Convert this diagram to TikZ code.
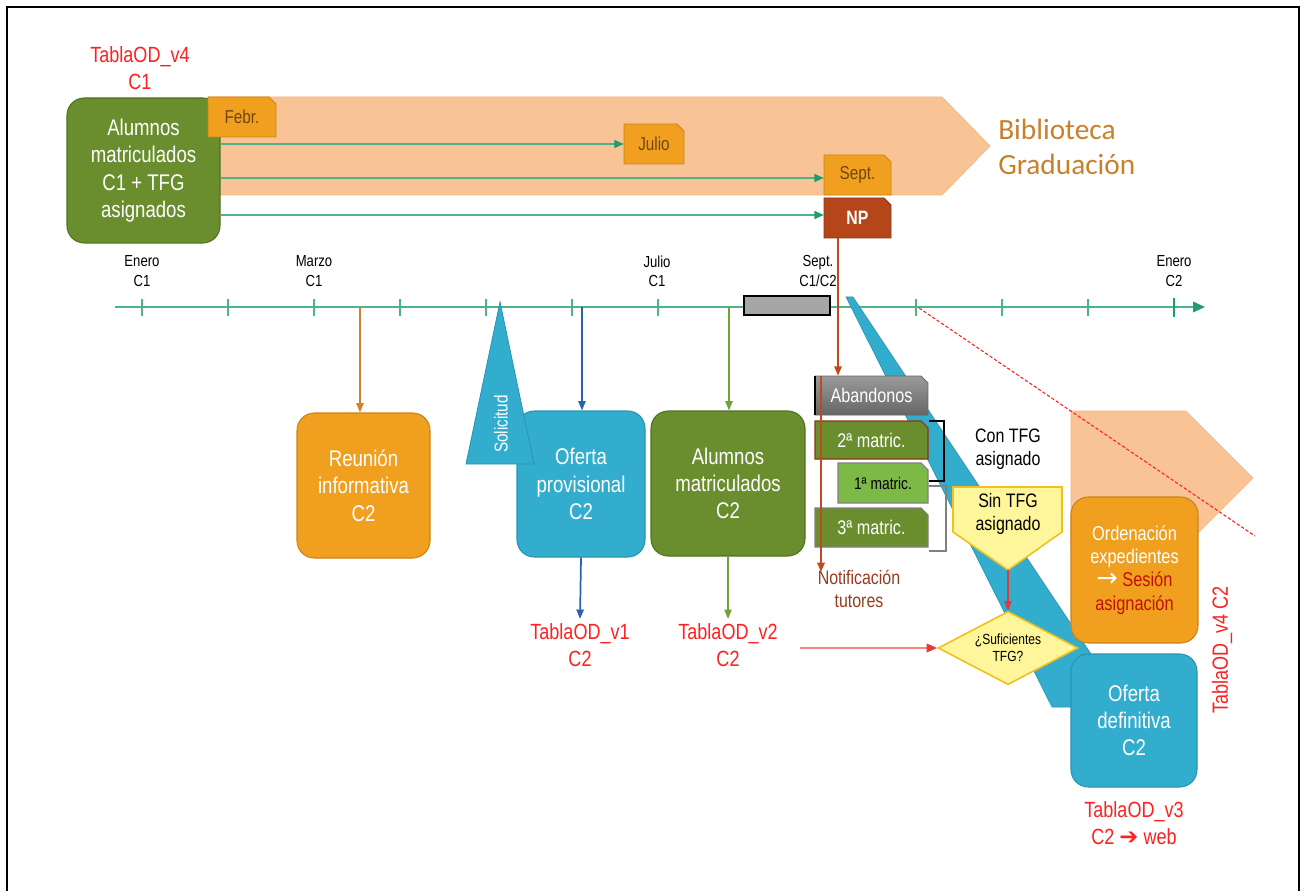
\documentclass[tikz,border=0pt]{standalone}
\usepackage{fontspec}
\setmainfont{Liberation Sans}[FakeStretch=0.82]
\newfontfamily\calib{Carlito}
\newfontfamily\dejavu{DejaVu Sans}
\usetikzlibrary{arrows.meta,shapes.geometric}
\definecolor{cOlive}{HTML}{6A8E2E}
\definecolor{cOliveD}{HTML}{4E7324}
\definecolor{cOrange}{HTML}{F0A01E}
\definecolor{cOrangeD}{HTML}{C98519}
\definecolor{cCyan}{HTML}{33ADCE}
\definecolor{cCyanD}{HTML}{2A93B3}
\definecolor{cPeach}{HTML}{F8C496}
\definecolor{cPeachD}{HTML}{F4B47F}
\definecolor{cNP}{HTML}{B5461A}
\definecolor{cNPD}{HTML}{8C3412}
\definecolor{cAxis}{HTML}{4DB38A}
\definecolor{cArrowG}{HTML}{1E9E6E}
\definecolor{cRed}{HTML}{FF2020}
\definecolor{cBib}{HTML}{C8802A}
\definecolor{cBrownT}{HTML}{963C1E}
\definecolor{cBrownA}{HTML}{D2822A}
\definecolor{cNPLine}{HTML}{BE4B1E}
\definecolor{cBlueA}{HTML}{2864AA}
\definecolor{cGreenA}{HTML}{72A236}
\definecolor{cLGreen}{HTML}{7DB946}
\definecolor{cYel}{HTML}{FFF59A}
\definecolor{cYelD}{HTML}{F2C01E}
\definecolor{cGrayR}{HTML}{A6A6A6}
\definecolor{cGrayT}{HTML}{9A9A9A}
\definecolor{cGrayB}{HTML}{666666}
\definecolor{cDarkRed}{HTML}{C0100A}
\definecolor{cTagT}{HTML}{6E4614}
\definecolor{cLRed}{HTML}{FF8080}
\definecolor{cRedA}{HTML}{E53935}
\newcommand\snipnode[8]{%
  \path[#1] (#4,#5) -- ({#6-7},#5) -- (#6,{#5+7}) -- (#6,#7) -- (#4,#7) -- cycle;
  \node[#2, inner sep=0pt, minimum width={(#6-#4)*0.75pt}, minimum height={(#7-#5)*0.75pt}] (#3) at ({(#4+#6)/2},{(#5+#7)/2}) {#8};}
\begin{document}
\begin{tikzpicture}[x=0.75pt,y=-0.75pt,
  rbox/.style={rounded corners=13pt, inner sep=2pt, align=center, text=white,
    font=\fontsize{17}{20.5}\selectfont, line width=0.8pt},
  olivebox/.style={rbox, fill=cOlive, draw=cOliveD},
  orangebox/.style={rbox, fill=cOrange, draw=cOrangeD},
  cyanbox/.style={rbox, fill=cCyan, draw=cCyanD},
  redlbl/.style={align=center, text=cRed, font=\fontsize{16.5}{20}\selectfont},
  axlbl/.style={align=center, font=\fontsize{12}{14.5}\selectfont},
  tagtxt/.style={text=cTagT, font=\fontsize{14}{16}\selectfont},
  tagshape/.style={fill=cOrange, draw=cOrangeD, line width=0.6pt},
  garrow/.style={draw=cAxis, line width=1.1pt, -{Triangle[length=7pt,width=6pt,color=cArrowG]}},
  tick/.style={draw=cAxis, line width=0.8pt},
  tipT/.style={-{Triangle[length=7pt,width=5.5pt]}},
  blktxt/.style={align=center, font=\fontsize{14.6}{17.5}\selectfont}
]
\useasboundingbox (0,0) rectangle (1303,891);
% frame
\draw[line width=1.5pt] (7,891) -- (7,7) -- (1299,7) -- (1299,891);

% big peach arrow
\path[fill=cPeach, draw=cPeachD, line width=0.5pt] (208,97) -- (942,97) -- (990,146) -- (942,195) -- (208,195) -- cycle;
\node[anchor=west, inner sep=0pt, align=left, text=cBib, font=\calib\fontsize{22}{26}\selectfont] (bib) at (998,147) {Biblioteca\\Graduación};

% top-left label and green box
\node[redlbl] (t4a) at (140,68) {TablaOD\_v4\\C1};
\node[olivebox, minimum width=114.75pt, minimum height=108.75pt] (c1) at (143.5,170.5) {Alumnos\\matriculados\\C1 + TFG\\asignados};

% tags
\snipnode{tagshape}{tagtxt}{febr}{208}{97}{276}{137}{Febr.}
\snipnode{tagshape}{tagtxt}{julio}{624}{124}{684}{164}{Julio}
\snipnode{tagshape}{tagtxt}{sept}{824}{155}{891}{195}{Sept.}
\snipnode{fill=cNP, draw=cNPD, line width=0.6pt}{text=white, font=\bfseries\fontsize{14.5}{16}\selectfont}{np}{824}{198}{891}{238}{NP}

\draw[garrow] (c1.east |- julio.west) -- (julio.west);
\draw[garrow] (c1.east |- 0,178) -- (sept.west |- 0,178);
\draw[garrow] (c1.east |- 0,215) -- (np.west |- 0,215);

% axis
\coordinate (ax0) at (115,307);
\coordinate (ax1) at (1205,307);
\draw[draw=cAxis, line width=1pt, -{Triangle[length=9pt,width=8pt,color=cArrowG]}] (ax0) -- (ax1);
\foreach \k in {0,...,11} {\draw[tick] ({142+86*\k},299) -- ({142+86*\k},316);}
\draw[draw=cArrowG, line width=1.6pt] (1174,298) -- (1174,317);
\node[axlbl] (lenero1) at (142,271) {Enero\\C1};
\node[axlbl] (lmarzo) at (314,271) {Marzo\\C1};
\node[axlbl] (ljulio) at (657,271) {Julio\\C1};
\node[axlbl] (lsept) at (818,271) {Sept.\\C1/C2};
\node[axlbl] (lenero2) at (1174,271) {Enero\\C2};
\node[fill=cGrayR, draw=black, line width=1pt, minimum width=64.5pt, minimum height=14.25pt, inner sep=0pt] (grey) at (787,305.5) {};

% second peach arrow and dashed line
\path[fill=cPeach, draw=cPeachD, line width=0.5pt] (1071,411) -- (1186,411) -- (1253,478) -- (1186,545) -- (1071,545) -- cycle;
\coordinate (d0) at (919,308);
\coordinate (d1) at (1255,536);
\draw[cRed, line width=0.8pt, dash pattern=on 2.5pt off 1.5pt] (d0) -- (d1);

% diagonal cyan band
\path[fill=cCyan, draw=cCyanD, line width=0.5pt] (846,297) -- (853,297) -- (1095,660) -- (1095,707) -- (1052,707) -- cycle;

% Reunion
\node[orangebox, minimum width=99.75pt, minimum height=108.75pt] (reun) at (363.5,485.5) {Reunión\\informativa\\C2};
\coordinate (aR) at (360,307);
\draw[cBrownA, line width=1.1pt, tipT] (aR) -- (aR |- reun.north);

% Oferta provisional
\node[cyanbox, minimum width=96pt, minimum height=109.5pt] (ofp) at (581,484) {Oferta\\provisional\\C2};
\coordinate (aB) at (582,307);
\draw[cBlueA, line width=1.3pt, tipT] (aB) -- (aB |- ofp.north);
\node[redlbl] (t1) at (580,645) {TablaOD\_v1\\C2};
\draw[cBlueA, line width=1.3pt, tipT] (ofp.south) -- (t1.north);

% Solicitud triangle
\path[fill=cCyan, draw=cCyanD, line width=0.6pt] (500,302) -- (534,464) -- (466,464) -- cycle;
\node[rotate=90, text=white, font=\fontsize{14}{16}\selectfont] (solic) at (501,424) {Solicitud};

% Alumnos C2
\node[olivebox, minimum width=115.5pt, minimum height=108.75pt] (alc2) at (728,483.5) {Alumnos\\matriculados\\C2};
\coordinate (aG) at (729,307);
\draw[cGreenA, line width=1.1pt, tipT] (aG) -- (aG |- alc2.north);
\node[redlbl] (t2) at (728,645) {TablaOD\_v2\\C2};
\draw[cGreenA, line width=1.1pt, tipT] (alc2.south) -- (t2.north);

% matric boxes
\snipnode{top color=cGrayT, bottom color=cGrayB, draw=cGrayB, line width=0.6pt}{text=white, font=\fontsize{14.8}{17}\selectfont}{aband}{815}{376}{928}{415}{Abandonos}
\draw[black, line width=1.2pt] (815,376) -- (815,415);
\snipnode{fill=cOlive, draw=cNPD, line width=0.8pt}{text=white, font=\fontsize{14.8}{17}\selectfont}{m2}{815}{421}{928}{459}{2ª matric.}
\snipnode{fill=cLGreen, draw=gray, line width=0.8pt}{text=black, font=\fontsize{12.6}{15}\selectfont}{m1}{838}{463}{928}{503}{1ª matric.}
\snipnode{fill=cOlive, draw=gray, line width=0.8pt}{text=white, font=\fontsize{14.8}{17}\selectfont}{m3}{815}{508}{928}{547}{3ª matric.}
\draw[black, line width=0.8pt] (929,421) -- (944,421) -- (944,481) -- (929,481);
\draw[gray, line width=0.8pt] (929,486) -- (946,486) -- (946,551) -- (929,551);

% NP lines
\coordinate (npa) at (838,238);
\draw[cNPLine, line width=1.5pt, tipT] (npa) -- (npa |- aband.north);
\node[blktxt, text=cBrownT] (notif) at (859,589) {Notificación\\tutores};
\coordinate (nt0) at (821,376);
\coordinate (nt1) at (821,572);
\draw[cNPLine, line width=1.5pt, tipT] (nt0) -- (nt1);

% Con / Sin TFG
\node[blktxt] (contfg) at (1008,449) {Con TFG\\asignado};
\path[fill=cYel, draw=cYelD, line width=1.2pt] (953,487) -- (1062,487) -- (1062,532) -- (1008,570) -- (953,532) -- cycle;
\node[blktxt] (sintfg) at (1008,514) {Sin TFG\\asignado};
\coordinate (sinp) at (1008,570);

% diamond
\node[diamond, aspect=1.9, fill=cYel, draw=cYelD, line width=1.2pt, minimum width=105pt, minimum height=55pt, inner sep=0pt, align=center, font=\fontsize{11}{13}\selectfont] (dia) at (1008,648) {¿Suficientes\\TFG?};
\draw[cRedA, line width=0.9pt, tipT] (sinp) -- (dia.north);
\coordinate (rl) at (800,648);
\draw[cLRed, line width=1.3pt, -{Triangle[length=8pt,width=6.5pt,color=cRedA]}] (rl) -- (dia.west);

% right boxes
\node[orangebox, minimum width=95.25pt, minimum height=109.5pt, font=\fontsize{15}{17.5}\selectfont] (orden) at (1134.5,570) {Ordenación\\expedientes\\{\dejavu\fontsize{19}{17.5}\selectfont →} \textcolor{cDarkRed}{Sesión}\\\textcolor{cDarkRed}{asignación}};
\node[cyanbox, minimum width=94.5pt, minimum height=99.75pt] (ofd) at (1134,720.5) {Oferta\\definitiva\\C2};
\node[redlbl] (t3) at (1134,823) {TablaOD\_v3\\C2 {\dejavu\fontsize{17}{20}\selectfont ➔} web};
\node[redlbl, rotate=90] (t4b) at (1222,650) {TablaOD\_v4 C2};
\end{tikzpicture}
\end{document}
